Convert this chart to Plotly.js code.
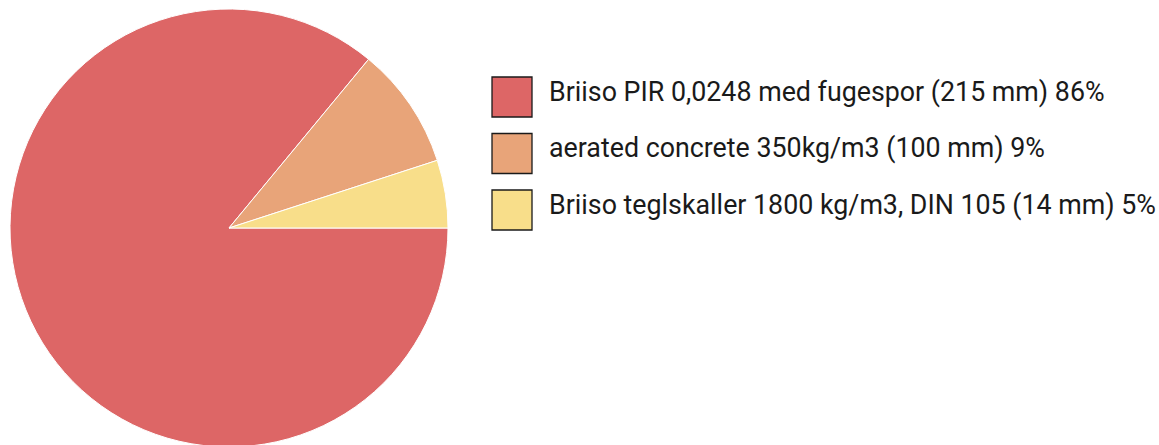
<!DOCTYPE html>
<html>
<head>
<meta charset="utf-8">
<script src="https://cdn.plot.ly/plotly-3.0.1.min.js"></script>
<style>
html,body{margin:0;padding:0;overflow:hidden;background:#fff;}
#chart{width:1159px;height:450px;}
</style>
</head>
<body>
<div id="chart"></div>
<script>
var labels = [
  "Briiso PIR 0,0248 med fugespor (215 mm)",
  "aerated concrete 350kg/m3 (100 mm)",
  "Briiso teglskaller 1800 kg/m3, DIN 105 (14 mm)"
];
var values = [86, 9, 5];
var colors = ["#DD6666", "#E8A479", "#F8DE8A"];

var W = 1159, H = 450;
var total = values.reduce(function(a,b){return a+b;},0);

var trace = {
  type: "pie",
  labels: labels,
  values: values,
  sort: false,
  direction: "clockwise",
  rotation: 90,
  textinfo: "none",
  hoverinfo: "label+percent",
  marker: {colors: colors, line: {color: "#ffffff", width: 1}},
  domain: {x: [10/W, 448/W], y: [(H-447)/H, (H-9)/H]},
  showlegend: false
};

var shapes = [], annotations = [];
var rowTop = [77, 133.5, 190];
for (var i = 0; i < labels.length; i++) {
  var t = rowTop[i];
  shapes.push({
    type: "rect", xref: "paper", yref: "paper",
    x0: 492/W, x1: 532/W, y0: (H-t-40)/H, y1: (H-t)/H,
    fillcolor: colors[i], line: {color: "#1a1a1a", width: 1.3}
  });
  annotations.push({
    xref: "paper", yref: "paper",
    x: 547/W, y: (H-t-15)/H, xanchor: "left", yanchor: "middle",
    text: labels[i] + " " + Math.round(values[i]/total*100) + "%",
    showarrow: false,
    font: {family: "Roboto, sans-serif", size: 26.8, color: "#1a1a1a"}
  });
}

var layout = {
  width: W, height: H,
  margin: {l: 0, r: 0, t: 0, b: 0},
  paper_bgcolor: "#ffffff",
  showlegend: false,
  shapes: shapes,
  annotations: annotations
};

Plotly.newPlot("chart", [trace], layout, {displayModeBar: false, staticPlot: true});
</script>
</body>
</html>
